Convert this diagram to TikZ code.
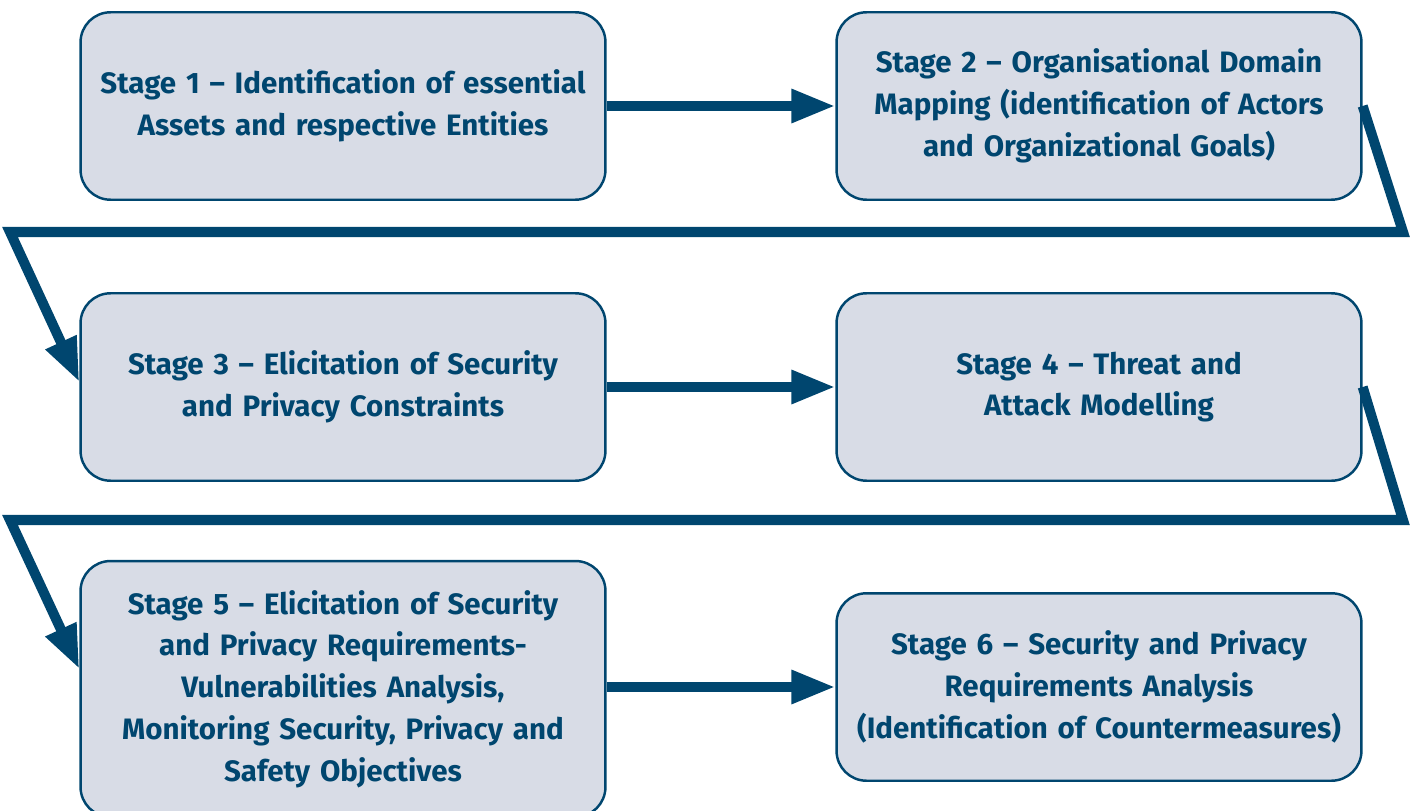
\documentclass[tikz,border=0pt]{standalone}
\usepackage{fontspec}
\setmainfont{Fira Sans}
\usetikzlibrary{arrows.meta}

\definecolor{stageblue}{HTML}{00466F}
\definecolor{stagefill}{HTML}{D8DCE6}

\tikzset{
  stage/.style={draw=stageblue, line width=1.4pt, fill=stagefill,
    rounded corners=0.6cm, minimum width=10.5cm, minimum height=3.75cm,
    text width=10cm, align=center, text=stageblue,
    font=\fontsize{16.8}{23.8}\selectfont\bfseries},
  flow/.style={color=stageblue, line width=5.7pt,
    -{Triangle[length=25pt,width=18pt]}},
}

\begin{document}
\begin{tikzpicture}[x=0.02cm, y=-0.02cm]
  \useasboundingbox (0,0) rectangle (1411,811);
  \clip (0,0) rectangle (1411,811);
  \node[stage] (s1) at (343,106) {Stage 1 – Identification of essential\\ Assets and respective Entities};
  \node[stage] (s2) at (1099,106) {Stage 2 – Organisational Domain\\ Mapping (identification of Actors\\ and Organizational Goals)};
  \node[stage] (s3) at (343,387) {Stage 3 – Elicitation of Security\\ and Privacy Constraints};
  \node[stage] (s4) at (1099,387) {Stage 4 – Threat and\\ Attack Modelling};
  \node[stage, minimum height=5.12cm] (s5) at (343,689) {Stage 5 – Elicitation of Security\\ and Privacy Requirements-\\ Vulnerabilities Analysis,\\ Monitoring Security, Privacy and\\ Safety Objectives};
  \node[stage] (s6) at (1099,687) {Stage 6 – Security and Privacy\\ Requirements Analysis\\ (Identification of Countermeasures)};
  % bends between the rows
  \coordinate (r1) at (1403,232);
  \coordinate (l1) at (10,232);
  \coordinate (r2) at (1403,520);
  \coordinate (l2) at (10,520);
  \path (s1) edge[flow] (s2);
  \path (s3) edge[flow] (s4);
  \path (s5.east |- s6.west) edge[flow] (s6.west);
  \draw[flow] (s2.east) -- (r1) -- (l1) -- ([yshift=0.1cm]s3.west);
  \draw[flow] (s4.east) -- (r2) -- (l2) -- ([yshift=0.4cm]s5.west);
\end{tikzpicture}
\end{document}
